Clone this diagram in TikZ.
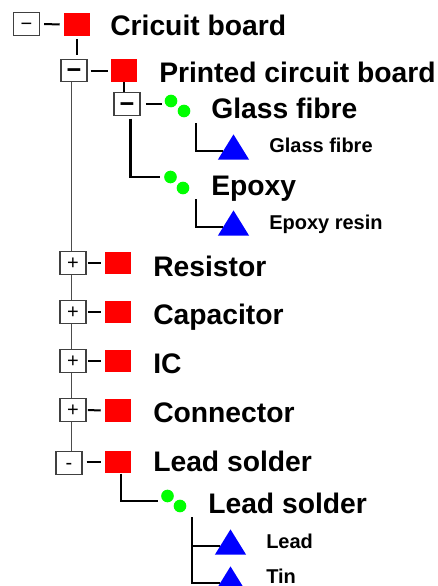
\documentclass[tikz,border=0pt]{standalone}
\usepackage{fontspec}
\setmainfont{Liberation Sans}
\usetikzlibrary{shapes.geometric,backgrounds}
\tikzset{
 px/.style={x=0.75pt,y=-0.75pt},
 toggle/.style={draw=black!75,line width=0.9pt,fill=white,inner sep=0pt,text height=10pt,text depth=0pt,minimum width=19.5pt,minimum height=17pt,font=\fontsize{15}{15}\selectfont},
 boldtoggle/.style={toggle,font=\bfseries\fontsize{19}{19}\selectfont,text height=12.6pt},
 redbox/.style={fill=red,inner sep=0pt,minimum width=19.5pt,minimum height=17pt},
 dot/.style={circle,fill=green,inner sep=0pt,minimum size=9.5pt},
 tri/.style={isosceles triangle,isosceles triangle apex angle=72,isosceles triangle stretches,shape border rotate=90,fill=blue,inner sep=0pt,minimum width=23.5pt,minimum height=19pt,anchor=lower side},
 big/.style={anchor=base west,inner sep=0pt,font=\bfseries\fontsize{21.2}{22}\selectfont},
 small/.style={anchor=base west,inner sep=0pt,font=\bfseries\fontsize{15}{16}\selectfont},
 wire/.style={line width=1.5pt,black,line cap=butt},
 heavy wire/.style={line width=2pt,black},
 thin wire/.style={line width=0.9pt,black!70},
}
\begin{document}
\begin{tikzpicture}[px]
\path[use as bounding box] (0,0) rectangle (437,586);
\begin{scope}
\clip (0,0) rectangle (437,586);
% toggles and squares
\node[toggle] (b1) at (26.5,24) {−};
\node[redbox] (r1) at (77,24.5) {};
\node[boldtoggle] (b2) at (74,70.5) {−};
\node[redbox] (r2) at (124,70.5) {};
\node[boldtoggle] (b3) at (127,104) {−};
\node[toggle] (b4) at (73,263) {+};
\node[redbox] (r4) at (118,263) {};
\node[toggle] (b5) at (73,312) {+};
\node[redbox] (r5) at (118,312) {};
\node[toggle] (b6) at (73,361) {+};
\node[redbox] (r6) at (118,361) {};
\node[toggle] (b7) at (73,410) {+};
\node[redbox] (r7) at (118,410.5) {};
\node[toggle] (b8) at (69,463) {-};
\node[redbox] (r8) at (118,462) {};
% dots
\node[dot] (d1a) at (171,101) {};
\node[dot] (d1b) at (184,111) {};
\node[dot] (d2a) at (170.5,177) {};
\node[dot] (d2b) at (183,188) {};
\node[dot] (d3a) at (167.5,496) {};
\node[dot] (d3b) at (180,506) {};
% triangles
\node[tri] (t1) at (233.5,160) {};
\node[tri] (t2) at (233.5,236) {};
\node[tri] (t3) at (230.5,555) {};
\node[tri] (t4) at (230.5,592) {};
% free ends
\coordinate (c1) at (196,123);
\coordinate (c2) at (196,199);
\coordinate (c3) at (192,517);
\coordinate (v2) at (71.5,0);
% connectors
\draw[wire] (b1.east) ++(4,0) -- ([xshift=-3]r1.west);
\draw[heavy wire,shorten <=2,shorten >=3] (r1.south) -- (r1.south |- b2.north);
\draw[wire] (b2.east) ++(3,0) -- ([xshift=-2]r2.west);
\draw[heavy wire] (r2.south) -- (r2.south |- b3.north);
\draw[wire] ([xshift=4]b3.east) -- ([xshift=-2]d1a.west |- b3.east);
\draw[heavy wire,shorten <=2,shorten >=3] ([xshift=2.5]b3.south) |- (d2a.west);
\begin{scope}[on background layer]
\draw[thin wire] (v2 |- b2.south) -- (v2 |- b8.north);
\end{scope}
\foreach \n in {4,5,6,7}{\draw[wire] ([xshift=1]b\n.east) -- ([xshift=-3]r\n.west);}
\draw[wire] ([xshift=3]b8.east |- r8.west) -- ([xshift=-3]r8.west);
\draw[wire,shorten >=4] ([xshift=2]r8.south) |- (d3a.south west);
\draw[wire] (c1) |- (t1.west);
\draw[wire] (c2) |- (t2.west);
\draw[wire] (c3) |- (t4.west);
\draw[wire] (c3 |- t3.west) -- (t3.west);
% labels
\node[big] (l1) at (110,35) {Cricuit board};
\node[big] (l2) at (159,82) {Printed circuit board};
\node[big] (l3) at (211,118) {Glass fibre};
\node[small] (l4) at (269,152.5) {Glass fibre};
\node[big] (l5) at (211,195) {Epoxy};
\node[small] (l6) at (269,229.5) {Epoxy resin};
\node[big] (l7) at (153,276) {Resistor};
\node[big] (l8) at (153,324) {Capacitor};
\node[big] (l9) at (153,373) {IC};
\node[big] (l10) at (153,422) {Connector};
\node[big] (l11) at (153,471.5) {Lead solder};
\node[big] (l12) at (208,513) {Lead solder};
\node[small] (l13) at (266,548.5) {Lead};
\node[small] (l14) at (266,583.5) {Tin};
\end{scope}
\end{tikzpicture}
\end{document}
